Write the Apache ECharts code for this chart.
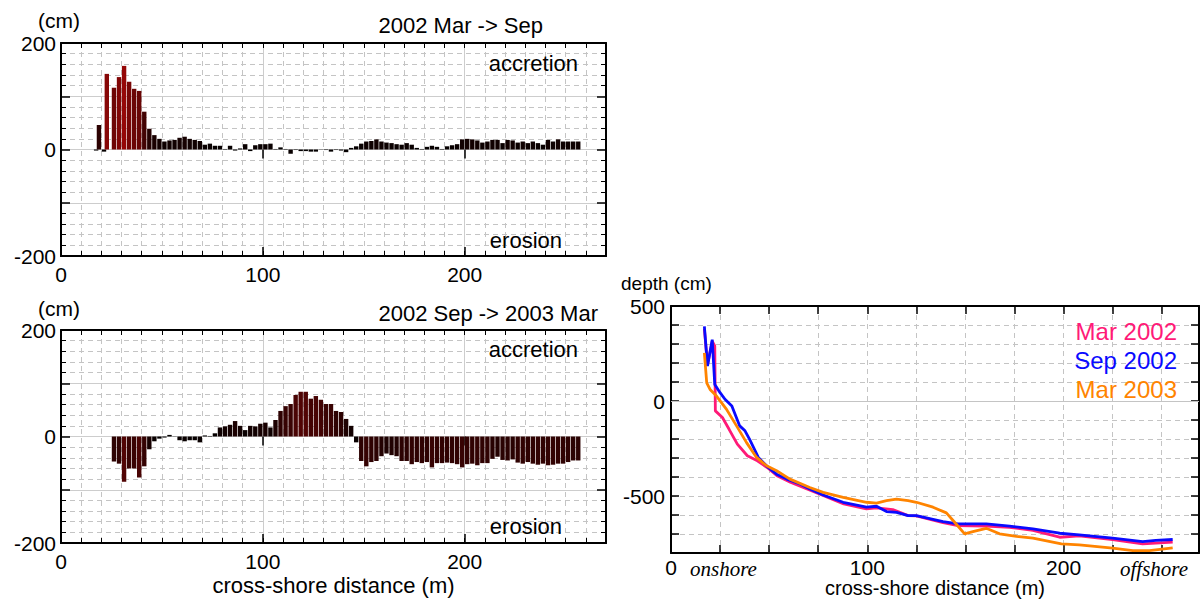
<!DOCTYPE html>
<html><head><meta charset="utf-8">
<script src="https://cdn.jsdelivr.net/npm/echarts@6/dist/echarts.min.js"></script>
<style>html,body{margin:0;padding:0;background:#fff}#c{width:1203px;height:599px}</style>
</head><body><div id="c"></div>
<script>
// ---------- DATA ----------
// cross-shore positions (m) of the first few irregular bars (top chart only)
const earlyPositions = [17.4, 18.8, 21.3, 22.7];
const earlyChange2002MarSep = [-2, 46, -4, 142];
// regular cross-shore positions (m) of the bars
const positions = [26.25, 28.75, 31.25, 33.75, 36.25, 38.75, 41.25, 43.75, 46.25, 48.75,
  51.25, 53.75, 56.25, 58.75, 61.25, 63.75, 66.25, 68.75, 71.25, 73.75,
  76.25, 78.75, 81.25, 83.75, 86.25, 88.75, 91.25, 93.75, 96.25, 98.75,
  101.25, 103.75, 106.25, 108.75, 111.25, 113.75, 116.25, 118.75, 121.25, 123.75,
  126.25, 128.75, 131.25, 133.75, 136.25, 138.75, 141.25, 143.75, 146.25, 148.75,
  151.25, 153.75, 156.25, 158.75, 161.25, 163.75, 166.25, 168.75, 171.25, 173.75,
  176.25, 178.75, 181.25, 183.75, 186.25, 188.75, 191.25, 193.75, 196.25, 198.75,
  201.25, 203.75, 206.25, 208.75, 211.25, 213.75, 216.25, 218.75, 221.25, 223.75,
  226.25, 228.75, 231.25, 233.75, 236.25, 238.75, 241.25, 243.75, 246.25, 248.75,
  251.25, 253.75, 256.25];
// elevation change (cm), 2002 Mar -> Sep
const change2002MarSep = [116, 136, 157, 127, 114, 110, 71, 39, 27, 20,
  15, 17, 18, 22, 24, 20, 18, 16, 9, 11,
  7, 7, 1, 7, -2, 2, 10, -3, 8, 10,
  10, 11, 1, 4, 1, -8, -1, -3, -3, -4,
  -4, 0.5, -1, -4, -1, -2, -5, 3, 6, 11,
  15, 16, 19, 15, 13, 12, 10, 9, 12, 9,
  3, 1, 5, 7, 5, 1, 6, 8, 10, 19,
  20, 19, 17, 13, 15, 18, 18, 12, 18, 17,
  13, 15, 12, 15, 12, 9, 18, 15, 19, 15,
  15, 15, 15];
// elevation change (cm), 2002 Sep -> 2003 Mar
const change2002Sep2003Mar = [-47, -51, -85, -60, -60, -77, -56, -24, -9, -4,
  -2, 3, 0.5, -7, -9, -7, -7, -11, 2, 1,
  6, 17, 19, 22, 29, 20, 12, 20, 19, 24,
  26, 17, 31, 48, 57, 61, 78, 84, 84, 71,
  76, 69, 61, 61, 48, 46, 33, 20, -11, -46,
  -56, -48, -46, -37, -32, -35, -37, -46, -46, -52,
  -48, -50, -48, -58, -50, -50, -49, -50, -52, -58,
  -52, -51, -54, -50, -50, -42, -38, -44, -45, -43,
  -49, -51, -48, -51, -53, -51, -54, -53, -51, -51,
  -48, -45, -45];
// depth profiles [distance m, depth cm]
const profileMar2002 = [[17,380],[18.6,190],[21,315],[22.3,290],[22.6,-52],[26.2,-87],[29.6,-149],[33.8,-227],[38.9,-288],[44,-315],[49,-350],[54,-393],[60.8,-428],[69.3,-463],[77.8,-498],[88,-542],[99.6,-568],[104.7,-563],[113,-572],[120.8,-603],[125,-605],[138.6,-640],[146.2,-656],[160.6,-659],[172.5,-665],[184.4,-681],[198,-717],[208,-710],[225,-729],[240.3,-752],[247,-748],[255.6,-743]];
const profileSep2002 = [[17,393],[18.6,184],[21,323],[22.3,87],[25,44],[27.5,9],[31,-26],[35,-131],[37.7,-157],[40,-201],[44.5,-297],[49.5,-350],[53.8,-385],[59,-411],[65.7,-437],[70.7,-463],[77.5,-495],[87.7,-533],[99.6,-559],[104.7,-554],[109.8,-582],[114.9,-586],[120.8,-603],[125,-603],[138.6,-635],[146.2,-647],[160.6,-647],[172.5,-659],[184.4,-673],[198,-696],[208,-705],[225,-722],[240.3,-740],[247,-734],[255.6,-729]];
const profileMar2003 = [[17,253],[18.2,96],[19.9,61],[23.2,26],[28.3,-44],[33.4,-131],[38.5,-219],[43.6,-297],[48.7,-341],[53.8,-367],[60.6,-411],[70.7,-455],[77.5,-481],[87.7,-507],[99.6,-533],[104.7,-537],[109.8,-524],[114.9,-516],[120.8,-524],[125,-533],[133.5,-559],[140.3,-589],[144.5,-638],[149.6,-699],[153.8,-687],[160.6,-670],[167.4,-699],[176,-713],[184.4,-722],[198.9,-752],[208,-757],[225,-774],[235.3,-787],[243.7,-787],[255.6,-773]];
const profileNames = ['Mar 2002', 'Sep 2002', 'Mar 2003'];
const profileColors = ['#ff1a78', '#0a0aff', '#ff8400'];
const diffTitles = ['2002 Mar -> Sep', '2002 Sep -> 2003 Mar'];

// ---------- STYLE HELPERS ----------
const FONT = 'Liberation Sans, Arial, sans-serif';
const BLACK = '#000';
const DASH = {color: '#c4c4c4', width: 1, type: [5, 4]};
const SOLID = {color: '#cdcdcd', width: 1, type: 'solid'};
const XMAX = 270;

function barColor(v) {
  const r = Math.min(255, Math.round(Math.abs(v) * 0.95));
  const g = Math.round(r * 0.05);
  return 'rgb(' + r + ',' + g + ',' + g + ')';
}

function leftXAxes(g, withName) {
  return [
    {type: 'value', gridIndex: g, position: 'bottom', min: 0, max: XMAX, interval: 10,
      axisLine: {show: true, onZero: false, lineStyle: {color: BLACK, width: 2}},
      axisTick: {show: true, inside: true, length: 5, lineStyle: {color: BLACK, width: 1}},
      axisLabel: {show: false}, splitLine: {show: true, lineStyle: DASH}},
    {type: 'value', gridIndex: g, position: 'bottom', min: 0, max: XMAX, interval: 100,
      axisLine: {show: true, onZero: false, lineStyle: {color: BLACK, width: 2}},
      axisTick: {show: true, inside: true, length: 9, lineStyle: {color: BLACK, width: 1.5}},
      axisLabel: {show: true, margin: 8, fontSize: 21, fontFamily: FONT, color: BLACK,
        formatter: v => (v % 100 === 0 ? String(v) : '')},
      splitLine: {show: true, lineStyle: SOLID},
      name: withName ? 'cross-shore distance (m)' : '', nameLocation: 'middle', nameGap: 42,
      nameMoveOverlap: false,
      nameTextStyle: {fontSize: 22, fontFamily: FONT, color: BLACK, verticalAlign: 'middle'}},
    {type: 'value', gridIndex: g, position: 'top', min: 0, max: XMAX, interval: 10,
      axisLine: {show: true, onZero: false, lineStyle: {color: BLACK, width: 2}},
      axisTick: {show: true, inside: true, length: 5, lineStyle: {color: BLACK, width: 1}},
      axisLabel: {show: false}, splitLine: {show: false}},
    {type: 'value', gridIndex: g, position: 'top', min: 0, max: XMAX, interval: 100,
      axisLine: {show: false},
      axisTick: {show: true, inside: true, length: 9, lineStyle: {color: BLACK, width: 1.5}},
      axisLabel: {show: false}, splitLine: {show: false}}
  ];
}
function leftYAxes(g) {
  return [
    {type: 'value', gridIndex: g, position: 'left', min: -200, max: 200, interval: 100,
      axisLine: {show: true, onZero: false, lineStyle: {color: BLACK, width: 2}},
      axisTick: {show: true, inside: true, length: 9, lineStyle: {color: BLACK, width: 1.5}},
      minorTick: {show: true, splitNumber: 5, length: 5, lineStyle: {color: BLACK, width: 1}},
      axisLabel: {show: true, margin: 5, fontSize: 21, fontFamily: FONT, color: BLACK,
        formatter: v => (v % 200 === 0 ? String(v) : '')},
      splitLine: {show: true, lineStyle: SOLID},
      minorSplitLine: {show: true, lineStyle: DASH}},
    {type: 'value', gridIndex: g, position: 'right', min: -200, max: 200, interval: 100,
      axisLine: {show: true, onZero: false, lineStyle: {color: BLACK, width: 2}},
      axisTick: {show: true, inside: true, length: 9, lineStyle: {color: BLACK, width: 1.5}},
      minorTick: {show: true, splitNumber: 5, length: 5, lineStyle: {color: BLACK, width: 1}},
      axisLabel: {show: false}, splitLine: {show: false}}
  ];
}

const RXMAX = 269;
const rightX = [
  {type: 'value', gridIndex: 2, position: 'bottom', min: 0, max: RXMAX, interval: 25,
    axisLine: {show: true, onZero: false, lineStyle: {color: BLACK, width: 2}},
    axisTick: {show: true, inside: true, length: 8, lineStyle: {color: BLACK, width: 1.5}},
    axisLabel: {show: true, margin: 4, fontSize: 21, fontFamily: FONT, color: BLACK,
      formatter: v => (v % 100 === 0 ? String(v) : '')},
    splitLine: {show: true, lineStyle: DASH},
    name: 'cross-shore distance (m)', nameLocation: 'middle', nameGap: 35,
    nameMoveOverlap: false,
    nameTextStyle: {fontSize: 20, fontFamily: FONT, color: BLACK, verticalAlign: 'middle'}},
  {type: 'value', gridIndex: 2, position: 'top', min: 0, max: RXMAX, interval: 25,
    axisLine: {show: true, onZero: false, lineStyle: {color: BLACK, width: 2}},
    axisTick: {show: true, inside: true, length: 8, lineStyle: {color: BLACK, width: 1.5}},
    axisLabel: {show: false}, splitLine: {show: false}}
];
const rightY = [
  {type: 'value', gridIndex: 2, position: 'left', min: -800, max: 500, interval: 100,
    axisLine: {show: true, onZero: false, lineStyle: {color: BLACK, width: 2}},
    axisTick: {show: true, inside: true, length: 8, lineStyle: {color: BLACK, width: 1.5}},
    axisLabel: {show: true, margin: 6, fontSize: 21, fontFamily: FONT, color: BLACK,
      formatter: v => (v % 500 === 0 ? String(v) : '')},
    splitLine: {show: true, lineStyle: DASH}},
  {type: 'value', gridIndex: 2, position: 'right', min: -800, max: 500, interval: 100,
    axisLine: {show: true, onZero: false, lineStyle: {color: BLACK, width: 2}},
    axisTick: {show: true, inside: true, length: 8, lineStyle: {color: BLACK, width: 1.5}},
    axisLabel: {show: false}, splitLine: {show: false}}
];

function txt(text, x, y, size, align, extra) {
  return Object.assign({type: 'text', silent: true, z: 100,
    style: {text: text, x: x, y: y, fill: BLACK, font: size + 'px ' + FONT,
      textAlign: align, textVerticalAlign: 'middle', align: align, verticalAlign: 'middle'}}, extra || {});
}
function itxt(text, x, y) {
  return {type: 'text', silent: true, z: 100,
    style: {text: text, x: x, y: y, fill: BLACK, font: 'italic 21px Liberation Serif, Times New Roman, serif',
      textAlign: 'left', textVerticalAlign: 'middle', align: 'left', verticalAlign: 'middle'}};
}

const topBars = earlyPositions.map((x, i) => [x, earlyChange2002MarSep[i]])
  .concat(positions.map((x, i) => [x, change2002MarSep[i]]));
const bottomBars = positions.map((x, i) => [x, change2002Sep2003Mar[i]]);

const chart = echarts.init(document.getElementById('c'), null, {renderer: 'svg'});
chart.setOption({
  animation: false,
  backgroundColor: '#fff',
  grid: [
    {left: 61, top: 43, width: 545, height: 213, containLabel: false, outerBoundsMode: 'none'},
    {left: 61, top: 330, width: 545, height: 213, containLabel: false, outerBoundsMode: 'none'},
    {left: 671, top: 306, width: 528, height: 247, containLabel: false, outerBoundsMode: 'none'}
  ],
  xAxis: leftXAxes(0, false).concat(leftXAxes(1, true)).concat(rightX),
  yAxis: leftYAxes(0).concat(leftYAxes(1)).concat(rightY),
  legend: {
    orient: 'vertical', right: 16, top: 314, align: 'right', itemWidth: 0, itemHeight: 0,
    itemGap: 5, icon: 'none', selectedMode: false,
    textStyle: {fontSize: 24, fontFamily: FONT, lineHeight: 24},
    data: profileNames.map((n, i) => ({name: n, textStyle: {color: profileColors[i]}}))
  },
  series: [
    {type: 'bar', name: diffTitles[0], xAxisIndex: 0, yAxisIndex: 0, barWidth: 4.4,
      data: topBars, itemStyle: {color: p => barColor(p.value[1])}},
    {type: 'bar', name: diffTitles[1], xAxisIndex: 4, yAxisIndex: 2, barWidth: 4.4,
      data: bottomBars, itemStyle: {color: p => barColor(p.value[1])}},
    {type: 'line', name: profileNames[0], xAxisIndex: 8, yAxisIndex: 4, data: profileMar2002,
      showSymbol: false, symbol: 'none', lineStyle: {color: profileColors[0], width: 2.8}, itemStyle: {color: profileColors[0]},
      markLine: {silent: true, symbol: 'none', label: {show: false}, lineStyle: {color: '#c4c4c4', width: 1, type: 'solid'},
        data: [{yAxis: 0}], z: 1}},
    {type: 'line', name: profileNames[1], xAxisIndex: 8, yAxisIndex: 4, data: profileSep2002,
      showSymbol: false, symbol: 'none', lineStyle: {color: profileColors[1], width: 2.8}, itemStyle: {color: profileColors[1]}},
    {type: 'line', name: profileNames[2], xAxisIndex: 8, yAxisIndex: 4, data: profileMar2003,
      showSymbol: false, symbol: 'none', lineStyle: {color: profileColors[2], width: 2.8}, itemStyle: {color: profileColors[2]}}
  ],
  graphic: [
    txt('(cm)', 38, 20, 21, 'left'),
    txt('(cm)', 38, 308, 21, 'left'),
    txt(diffTitles[0], 543, 25, 22, 'right'),
    txt(diffTitles[1], 598, 313, 22, 'right'),
    txt('accretion', 578, 63, 22, 'right'),
    txt('erosion', 562, 240, 22, 'right'),
    txt('accretion', 578, 349, 22, 'right'),
    txt('erosion', 562, 526, 22, 'right'),
    txt('depth (cm)', 621, 283, 19, 'left'),
    itxt('onshore', 690, 569),
    itxt('offshore', 1120, 569)
  ]
});
</script>
</body></html>
